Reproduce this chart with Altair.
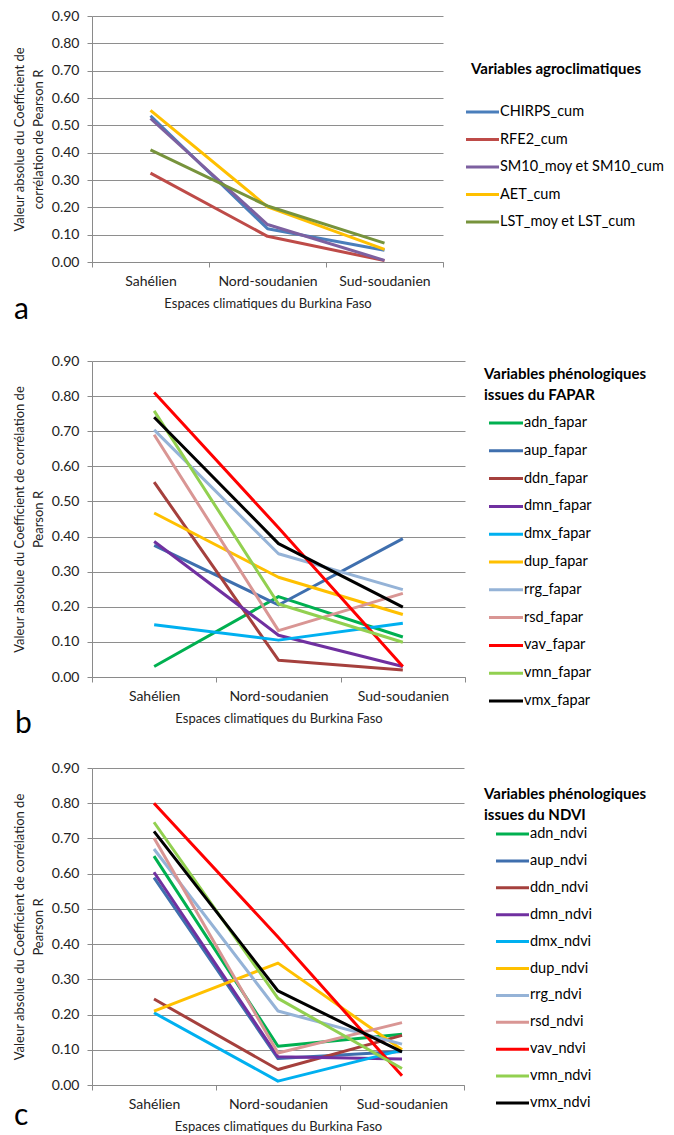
import altair as alt
import pandas as pd

zones = ["Sahélien", "Nord-soudanien", "Sud-soudanien"]
y_ticks = [0.0, 0.1, 0.2, 0.3, 0.4, 0.5, 0.6, 0.7, 0.8, 0.9]
x_title = "Espaces climatiques du Burkina Faso"

# ---- Panel a : agroclimatic variables
a_names = ["CHIRPS_cum", "RFE2_cum", "SM10_moy et SM10_cum", "AET_cum", "LST_moy et LST_cum"]
a_colors = ["#4A7EBB", "#BE4B48", "#7D60A0", "#FFC000", "#77933C"]
a_chirps = [0.535, 0.122, 0.043]
a_rfe2 = [0.325, 0.094, 0.005]
a_sm10 = [0.525, 0.137, 0.006]
a_aet = [0.555, 0.202, 0.046]
a_lst = [0.410, 0.205, 0.069]
a_values = [a_chirps, a_rfe2, a_sm10, a_aet, a_lst]

# ---- Panel b : FAPAR phenology variables
b_names = ["adn_fapar", "aup_fapar", "ddn_fapar", "dmn_fapar", "dmx_fapar", "dup_fapar",
           "rrg_fapar", "rsd_fapar", "vav_fapar", "vmn_fapar", "vmx_fapar"]
b_adn = [0.030, 0.229, 0.114]
b_aup = [0.375, 0.205, 0.394]
b_ddn = [0.555, 0.048, 0.020]
b_dmn = [0.386, 0.119, 0.030]
b_dmx = [0.149, 0.105, 0.153]
b_dup = [0.467, 0.284, 0.178]
b_rrg = [0.704, 0.351, 0.249]
b_rsd = [0.690, 0.132, 0.238]
b_vav = [0.810, 0.425, 0.030]
b_vmn = [0.758, 0.208, 0.099]
b_vmx = [0.740, 0.380, 0.199]
b_values = [b_adn, b_aup, b_ddn, b_dmn, b_dmx, b_dup, b_rrg, b_rsd, b_vav, b_vmn, b_vmx]

# ---- Panel c : NDVI phenology variables
c_names = ["adn_ndvi", "aup_ndvi", "ddn_ndvi", "dmn_ndvi", "dmx_ndvi", "dup_ndvi",
           "rrg_ndvi", "rsd_ndvi", "vav_ndvi", "vmn_ndvi", "vmx_ndvi"]
c_adn = [0.650, 0.110, 0.144]
c_aup = [0.589, 0.075, 0.095]
c_ddn = [0.244, 0.044, 0.141]
c_dmn = [0.604, 0.080, 0.074]
c_dmx = [0.205, 0.011, 0.099]
c_dup = [0.210, 0.346, 0.100]
c_rrg = [0.670, 0.210, 0.116]
c_rsd = [0.701, 0.091, 0.177]
c_vav = [0.800, 0.420, 0.026]
c_vmn = [0.746, 0.246, 0.047]
c_vmx = [0.720, 0.267, 0.094]
c_values = [c_adn, c_aup, c_ddn, c_dmn, c_dmx, c_dup, c_rrg, c_rsd, c_vav, c_vmn, c_vmx]

phen_colors = ["#00B050", "#3F6FAE", "#A5403D", "#7030A0", "#00B0F0", "#FFC000",
               "#95B3D7", "#D99694", "#FF0000", "#92D050", "#000000"]

FONT = "Lato"


def frame(names, values):
    rows = []
    for name, vals in zip(names, values):
        for z, v in zip(zones, vals):
            rows.append({"zone": z, "serie": name, "value": v})
    return pd.DataFrame(rows)


def panel(names, values, colors, y_title, legend_title, letter, width, height,
          sym_x0, sym_x1, row_y0, row_y1, title_x, title_y, letter_x, letter_y):
    df = frame(names, values)
    cscale = alt.Scale(domain=names, range=colors)
    lines = alt.Chart(df).mark_line(strokeWidth=3, strokeJoin="round").encode(
        x=alt.X("zone:N", sort=zones, bandPosition=0.5,
                scale=alt.Scale(type="band", paddingInner=0, paddingOuter=0),
                axis=alt.Axis(title=x_title, tickBand="extent", labelAngle=0, grid=False,
                              labelPadding=7, titlePadding=9, tickSize=5)),
        y=alt.Y("value:Q", scale=alt.Scale(domain=[0, 0.9], nice=False, zero=True),
                axis=alt.Axis(values=y_ticks, format=".2f", title=y_title,
                              titleLineHeight=19, labelPadding=8, titlePadding=6,
                              tickSize=5, grid=True)),
        color=alt.Color("serie:N", sort=names, scale=cscale, legend=None),
        detail="serie:N",
    )

    # legend drawn as marks on a point scale of the series names
    ldf = pd.DataFrame({"serie": names})
    ly = alt.Y("serie:N", sort=names, axis=None,
               scale=alt.Scale(type="point", domain=names, range=[row_y0, row_y1], padding=0))
    leg_rule = alt.Chart(ldf).mark_rule(strokeWidth=3).encode(
        x=alt.value(sym_x0), x2=alt.value(sym_x1), y=ly,
        color=alt.Color("serie:N", sort=names, scale=cscale, legend=None),
    )
    leg_text = alt.Chart(ldf).mark_text(
        font=FONT, fontSize=14.5, align="left", baseline="middle", color="#000000"
    ).encode(text="serie:N", x=alt.value(sym_x1 + 1), y=ly)
    legend = alt.layer(leg_rule, leg_text)

    title_layers = []
    for i, line in enumerate(legend_title):
        title_layers.append(
            alt.Chart(pd.DataFrame({"t": [line]})).mark_text(
                font=FONT, fontSize=15, fontWeight="bold", align="left",
                baseline="alphabetic", color="#000000"
            ).encode(text="t:N", x=alt.value(title_x), y=alt.value(title_y + 21 * i))
        )

    lab = alt.Chart(pd.DataFrame({"t": [letter]})).mark_text(
        font=FONT, fontSize=30, align="left", baseline="alphabetic", color="#000000"
    ).encode(text="t:N", x=alt.value(letter_x), y=alt.value(letter_y))
    return alt.layer(lines, legend, *title_layers, lab).resolve_scale(
        y="independent").properties(width=width, height=height)


pa = panel(a_names, a_values, a_colors,
           ["Valeur absolue du Coefficient de", "corrélation de Pearson R"],
           ["Variables agroclimatiques"], "a", 351, 246,
           374, 407, 96, 206, 379, 58, -78, 303)
pb = panel(b_names, b_values, phen_colors,
           ["Valeur absolue du Coefficient de corrélation de", "Pearson R"],
           ["Variables phénologiques", "issues du FAPAR"], "b", 373, 316,
           397, 431, 62, 340, 392, 18, -77, 372)
pc = panel(c_names, c_values, phen_colors,
           ["Valeur absolue du Coefficient de corrélation de", "Pearson R"],
           ["Variables phénologiques", "issues du NDVI"], "c", 372, 317,
           404, 437, 66, 335, 392, 31, -78, 357)

inner = alt.vconcat(pb, pc, spacing=22).resolve_scale(color="independent")
chart = alt.vconcat(pa, inner, spacing=29).resolve_scale(
    color="independent"
).properties(
    padding={"left": 5, "top": 1, "right": 0, "bottom": 0}
).configure_axis(
    labelFont=FONT, labelFontSize=14, labelColor="#222222",
    titleFont=FONT, titleFontSize=13, titleFontWeight="normal", titleColor="#222222",
    domainColor="#8a8a8a", tickColor="#8a8a8a", gridColor="#8e8e8e", gridWidth=1,
).configure_view(stroke=None)

chart.save("out.html", embed_options={"renderer": "svg", "actions": False})
